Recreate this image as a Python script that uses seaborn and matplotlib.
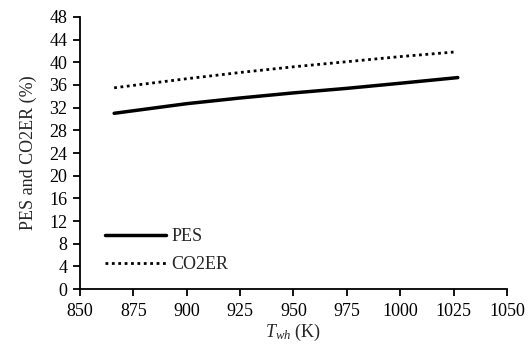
import matplotlib
matplotlib.use("Agg")
import matplotlib.pyplot as plt
import seaborn as sns
import pandas as pd

T_pes = [866, 900, 925, 950, 975, 1000, 1027]
pes = [31.0, 32.7, 33.7, 34.6, 35.4, 36.3, 37.3]
T_co2 = [866, 900, 925, 950, 975, 1000, 1025]
co2er = [35.5, 37.1, 38.2, 39.2, 40.1, 41.0, 41.8]
x_ticks = [850, 875, 900, 925, 950, 975, 1000, 1025, 1050]
y_ticks = list(range(0, 49, 4))

sns.set_theme(style="ticks")
plt.rcParams['font.family'] = ['Liberation Serif', 'DejaVu Serif']
plt.rcParams['mathtext.fontset'] = 'custom'
plt.rcParams['mathtext.it'] = 'Liberation Serif:italic'
plt.rcParams['mathtext.rm'] = 'Liberation Serif'

fig = plt.figure(figsize=(5.28, 3.45), dpi=100)
ax = fig.add_axes([0.1515, 0.162, 0.8085, 0.789])

df1 = pd.DataFrame({"T": T_pes, "v": pes})
df2 = pd.DataFrame({"T": T_co2, "v": co2er})
sns.lineplot(data=df1, x="T", y="v", ax=ax, color="black", linewidth=2.5, label="PES")
sns.lineplot(data=df2, x="T", y="v", ax=ax, color="black", linewidth=2.0,
             linestyle=(0, (1, 1.3)), label="CO2ER")

ax.set_xlim(850, 1050)
ax.set_ylim(0, 48)
ax.set_xticks(x_ticks)
ax.set_yticks(y_ticks)
ax.tick_params(labelsize=13, width=1.3, length=5, color="black", labelcolor="black")
ax.tick_params(axis="y", pad=4)
ax.tick_params(axis="x", pad=5)
for s in ["top", "right"]:
    ax.spines[s].set_visible(False)
for s in ["left", "bottom"]:
    ax.spines[s].set_linewidth(1.3)
    ax.spines[s].set_color("black")

ax.set_xlabel(r"$T_{wh}$ (K)", fontsize=13, labelpad=1)
ax.set_ylabel("PES and CO2ER (%)", fontsize=13, labelpad=9)

leg = ax.legend(loc="lower left", bbox_to_anchor=(0.02, 0.0), frameon=False, fontsize=13,
                handlelength=3.4, handletextpad=0.3, labelspacing=0.6)

fig.savefig("out.png", dpi=100)
